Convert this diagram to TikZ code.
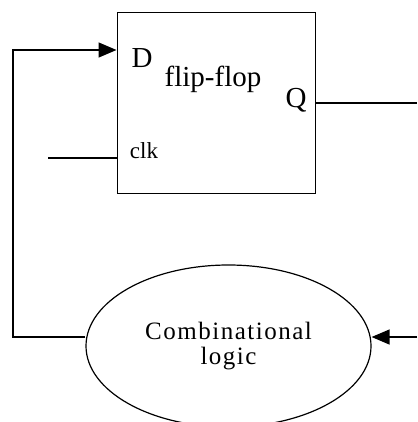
\documentclass[tikz,border=0pt]{standalone}
\usepackage{fontspec}
\setmainfont{Liberation Serif}
\usetikzlibrary{arrows.meta,shapes.geometric}
\begin{document}
\begin{tikzpicture}[x=1pt,y=-1pt,
  wire/.style={line width=1.4pt},
  arr/.style={wire,-{Triangle[length=18pt,width=15pt]}},
  big/.style={inner sep=0pt,anchor=base,font=\fontsize{29}{30}\selectfont},
  small/.style={inner sep=0pt,anchor=base,font=\fontsize{23}{24}\selectfont}]
\useasboundingbox (0,0) rectangle (417,422);
% flip-flop box
\node[draw,line width=1pt,minimum width=198pt,minimum height=180pt,inner sep=0pt] (ff) at (216,103) {};
\node[big] (dl) at (142,68) {D};
\node[big] (ffl) at (213,87) {flip-flop};
\node[big] (ql) at (296,108) {Q};
\node[small] (ck) at (144,158) {clk};
% combinational logic block
\node[draw,ellipse,line width=1.2pt,minimum width=285pt,minimum height=162pt,inner sep=0pt,
      align=center,font=\fontsize{25}{25}\selectfont\addfontfeature{LetterSpace=6}]
      (cl) at (228.5,346) {\raisebox{-3pt}{Combinational}\\\raisebox{-3pt}{logic}};
% terminal points
\coordinate (dtap) at (ff.west |- 0,50);
\coordinate (ctap) at (ff.west |- 0,158);
\coordinate (qtap) at (ff.east |- 0,103);
\coordinate (clkin) at (48,158);
\coordinate (qout) at (417,103);
\coordinate (fbcorner) at (13,337);
\coordinate (lin) at (417,337);
\coordinate (lout) at (cl.west |- 0,337);
\coordinate (lend) at (cl.east |- 0,337);
% connectors
\draw[arr] (lout) -- (fbcorner) -- (fbcorner |- dtap) -- (dtap);
\draw[wire,line width=1.1pt] (clkin) -- (ctap);
\draw[wire,line width=1.1pt] (qtap) -- (qout);
\draw[arr] (lin) -- (lend);
\end{tikzpicture}
\end{document}
